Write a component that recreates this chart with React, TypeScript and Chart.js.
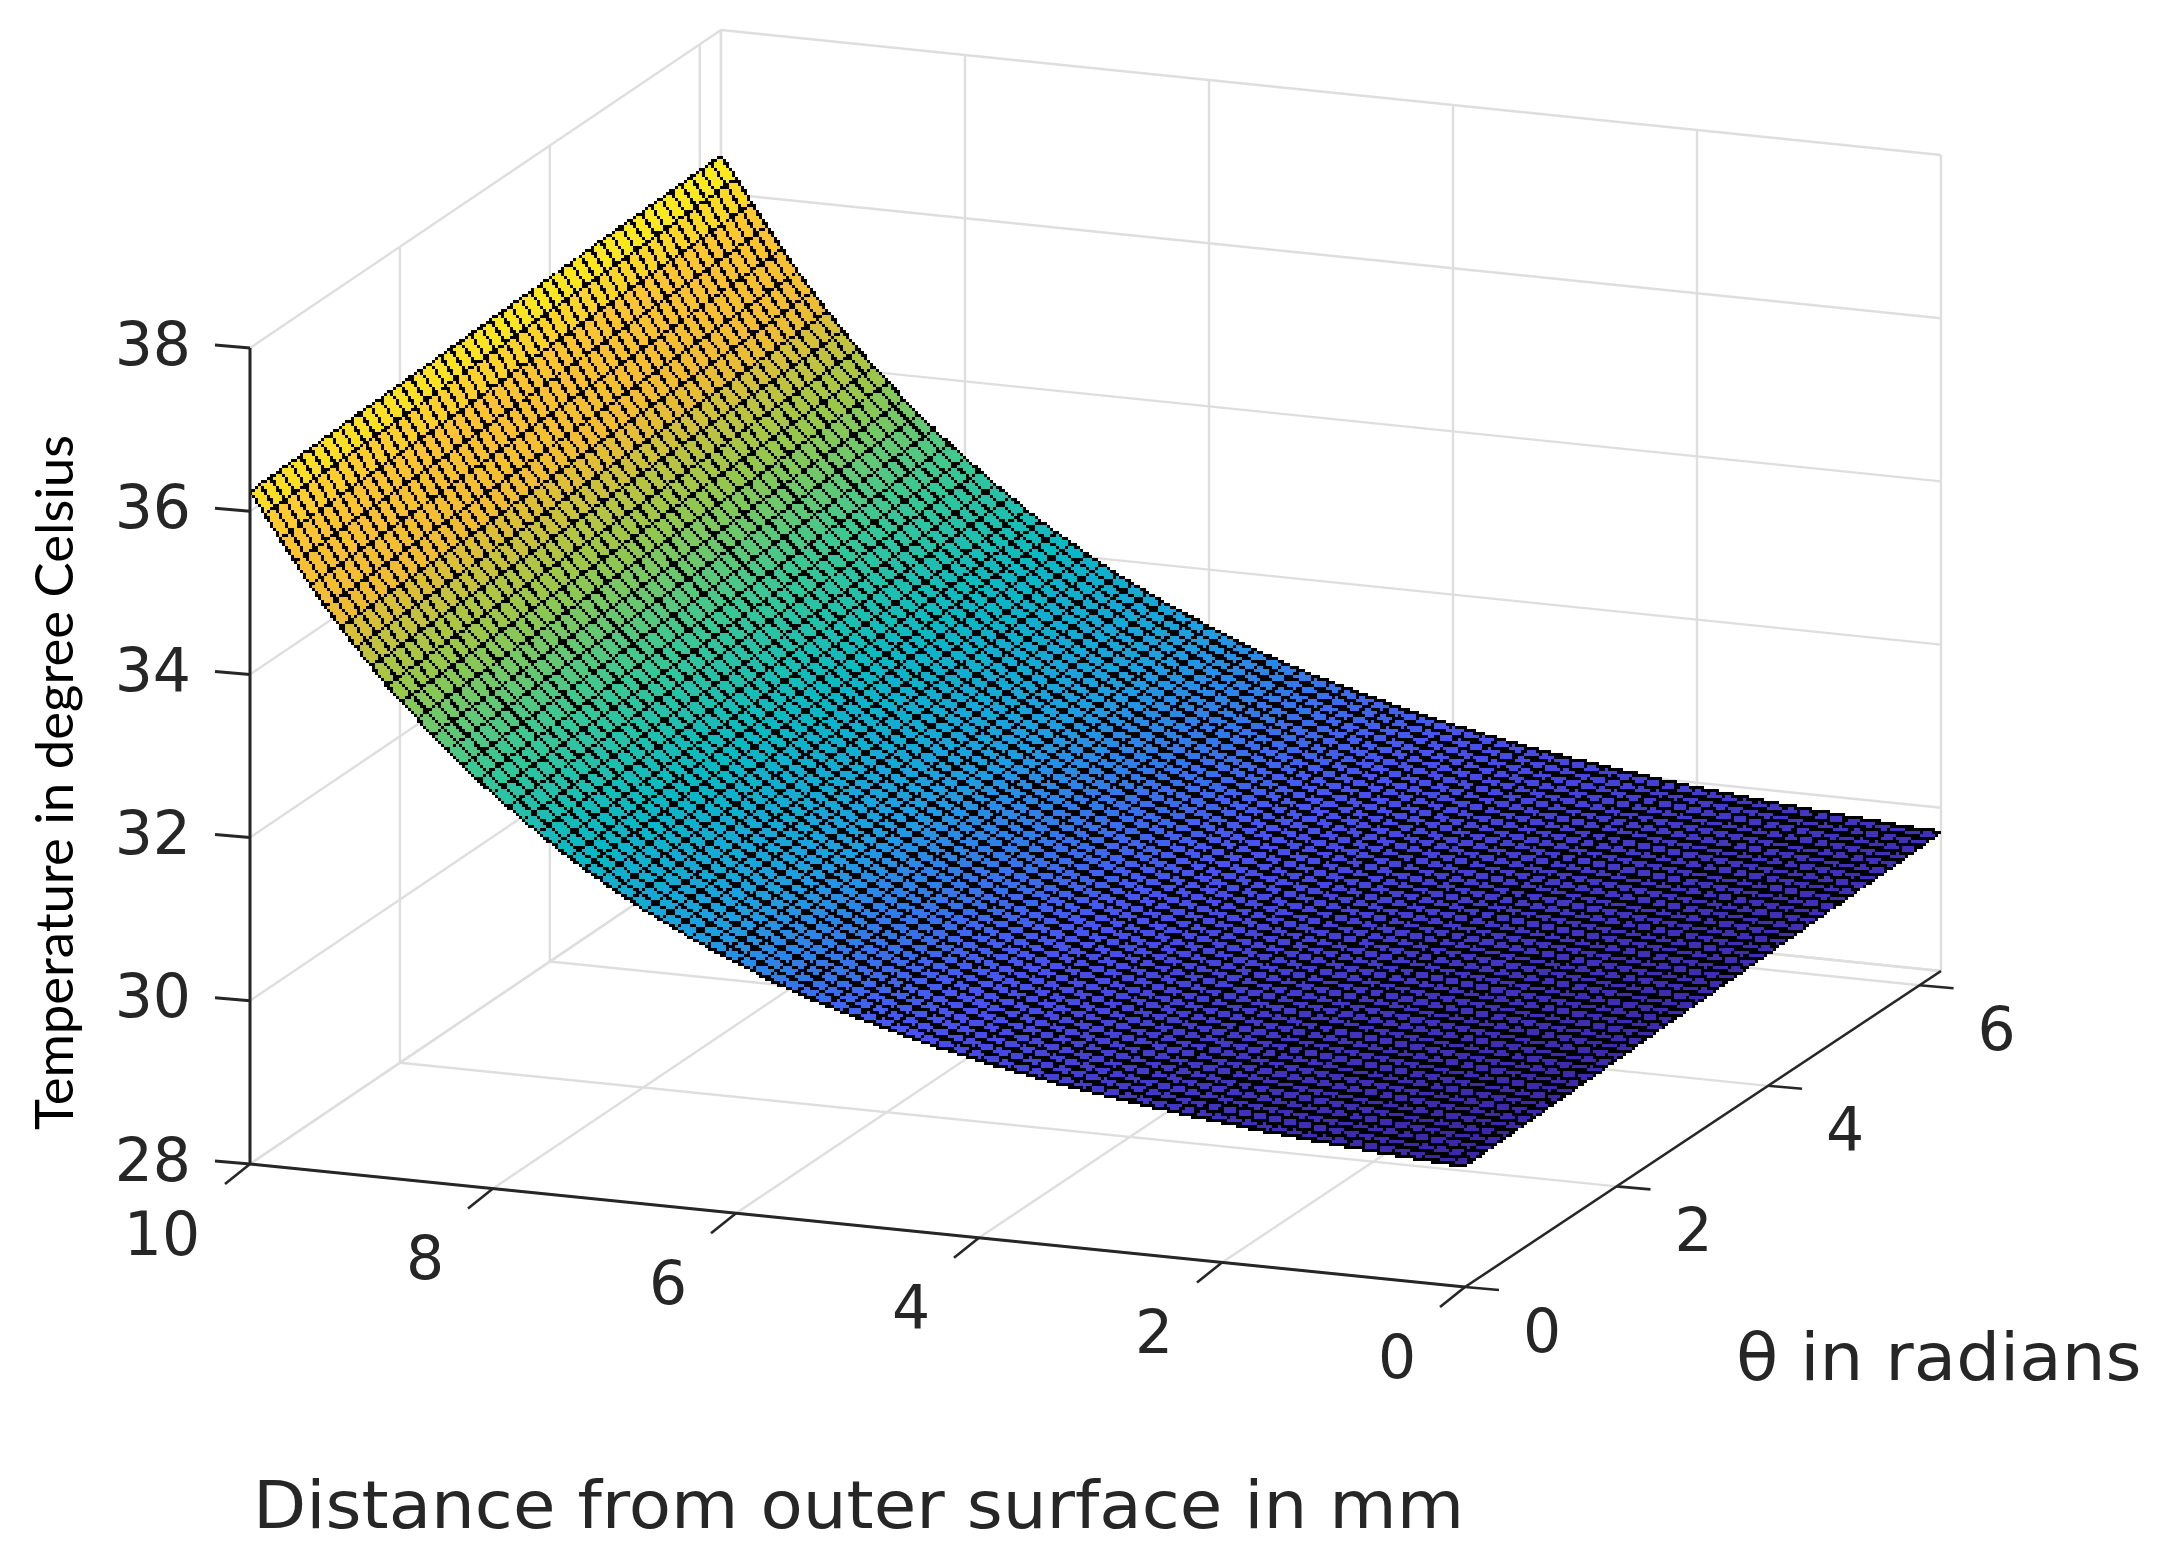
import React, { useEffect, useRef } from "react";
import { Chart, registerables } from "chart.js";

Chart.register(...registerables);

const distanceTicks = [0, 2, 4, 6, 8, 10];
const thetaTicks = [0, 2, 4, 6];
const tempTicks = [28, 30, 32, 34, 36, 38];
const THETA_MAX = 6.2832;
const xTitle = "Distance from outer surface in mm";
const thetaTitle = "θ in radians";
const zTitle = "Temperature in degree Celsius";

// Temperature (°C) at each mesh node along the distance axis, 0 to 10 mm every 0.125 mm
const tempByDistance = [
  29.48, 29.49, 29.5, 29.51, 29.53, 29.54, 29.55, 29.57, 29.58, 29.6, 29.61, 29.63, 29.645, 29.66, 29.68, 29.7,
  29.72, 29.74, 29.76, 29.785, 29.81, 29.83, 29.86, 29.885, 29.91, 29.94, 29.97, 30.0, 30.035, 30.07, 30.105, 30.14,
  30.18, 30.22, 30.26, 30.3, 30.35, 30.4, 30.445, 30.5, 30.55, 30.6, 30.66, 30.72, 30.79, 30.85, 30.92, 31.0,
  31.08, 31.16, 31.24, 31.32, 31.42, 31.51, 31.6, 31.71, 31.81, 31.93, 32.04, 32.16, 32.28, 32.42, 32.55, 32.7,
  32.84, 32.99, 33.15, 33.32, 33.48, 33.67, 33.85, 34.04, 34.25, 34.46, 34.69, 34.92, 35.17, 35.43, 35.7, 35.98,
  36.24,
];

// Small rise of the surface (°C) at each mesh node along the theta axis
const riseByTheta = [
  0, 0.005, 0.009, 0.014, 0.019, 0.023, 0.028, 0.033, 0.037, 0.042, 0.047, 0.051, 0.056, 0.061, 0.066, 0.07,
  0.075, 0.08, 0.084, 0.089, 0.094, 0.098, 0.103, 0.108, 0.112, 0.117, 0.122, 0.126, 0.131, 0.136, 0.14, 0.145,
  0.15, 0.154, 0.159, 0.164, 0.169, 0.173, 0.178, 0.183, 0.187, 0.192, 0.197, 0.201, 0.206, 0.211, 0.215, 0.22,
];

// parula-like colour stops read from the surface
const parula: number[][] = [
  [62, 38, 168],
  [72, 82, 244],
  [30, 158, 226],
  [8, 185, 196],
  [58, 200, 148],
  [150, 200, 75],
  [240, 188, 50],
  [254, 196, 50],
  [249, 251, 21],
];

const CW = 2157;
const CH = 1561;
const PIX = 3;

function parulaColor(t: number): number[] {
  const c = Math.max(0, Math.min(0.99999, t)) * (parula.length - 1);
  const i = Math.floor(c);
  const f = c - i;
  return parula[i].map((v, k) => Math.round(v + (parula[i + 1][k] - v) * f));
}

// Orthographic-like view of the plot box onto view coordinates
function project(dist: number, theta: number, temp: number) {
  const u = dist / 10;
  const v = theta / THETA_MAX;
  const fx = 1465 * (1 - u) * (1 - v) + 250 * u * (1 - v) + 1941 * (1 - u) * v + 721 * u * v;
  const fy = 1287 * (1 - u) * (1 - v) + 1164 * u * (1 - v) + 971 * (1 - u) * v + 846 * u * v;
  return { x: fx, y: fy - (temp - 28) * 81.6 };
}

function seg(a: { x: number; y: number }, b: { x: number; y: number }, color: string, width: number, order: number) {
  return {
    type: "scatter" as const,
    data: [a, b],
    showLine: true,
    pointRadius: 0,
    borderColor: color,
    borderWidth: width,
    tension: 0,
    order,
  };
}

function buildDatasets() {
  const GRID = "#dedede";
  const GW = 2.4;
  const AX = "#262626";
  const out: any[] = [];
  const thetaLines = [...thetaTicks, THETA_MAX];
  for (const z of tempTicks) {
    out.push(seg(project(10, 0, z), project(10, THETA_MAX, z), GRID, GW, 3));
    out.push(seg(project(10, THETA_MAX, z), project(0, THETA_MAX, z), GRID, GW, 3));
  }
  for (const t of thetaLines) {
    out.push(seg(project(10, t, 28), project(10, t, 38), GRID, GW, 3));
    out.push(seg(project(10, t, 28), project(0, t, 28), GRID, GW, 3));
  }
  for (const d of distanceTicks) {
    out.push(seg(project(d, 0, 28), project(d, THETA_MAX, 28), GRID, GW, 3));
    out.push(seg(project(d, THETA_MAX, 28), project(d, THETA_MAX, 38), GRID, GW, 3));
  }
  out.push({ type: "scatter", label: "surface", data: [], pointRadius: 0, order: 2 });
  // axes
  out.push(seg(project(10, 0, 28), project(10, 0, 38), AX, 3, 1));
  out.push(seg(project(10, 0, 28), project(0, 0, 28), AX, 3, 1));
  out.push(seg(project(0, 0, 28), project(0, THETA_MAX, 28), AX, 2.6, 1));
  // ticks
  for (const z of tempTicks) {
    const p = project(10, 0, z);
    out.push(seg(p, { x: p.x - 35, y: p.y - 3 }, AX, 3, 1));
  }
  for (const d of distanceTicks) {
    const p = project(d, 0, 28);
    out.push(seg(p, { x: p.x - 25, y: p.y + 20 }, AX, 2.6, 1));
  }
  for (const t of thetaTicks) {
    const p = project(0, t, 28);
    out.push(seg(p, { x: p.x + 34, y: p.y + 3 }, AX, 2.6, 1));
  }
  return out;
}

const surfacePlugin = {
  id: "surface",
  afterDatasetDraw(chart: any, args: any) {
    if (chart.data.datasets[args.index].label !== "surface") return;
    const xs = chart.scales.x;
    const ys = chart.scales.y;
    const w = Math.ceil(CW / PIX);
    const h = Math.ceil(CH / PIX);
    const nx = tempByDistance.length;
    const nt = riseByTheta.length;
    const pt = (i: number, j: number) => {
      const p = project(i * 0.125, (j / (nt - 1)) * THETA_MAX, tempByDistance[i] + riseByTheta[j]);
      return [xs.getPixelForValue(p.x) / PIX, ys.getPixelForValue(p.y) / PIX];
    };
    const all = tempByDistance[nx - 1] + riseByTheta[nt - 1];
    const lo = tempByDistance[0];

    const fillC = document.createElement("canvas");
    fillC.width = w;
    fillC.height = h;
    const fc = fillC.getContext("2d", { willReadFrequently: true })!;
    const lineC = document.createElement("canvas");
    lineC.width = w;
    lineC.height = h;
    const lc = lineC.getContext("2d", { willReadFrequently: true })!;

    for (let i = 0; i < nx - 1; i++) {
      for (let j = 0; j < nt - 1; j++) {
        const t = (tempByDistance[i] + riseByTheta[j] - lo) / (all - lo);
        const col = `rgb(${parulaColor(t).join(",")})`;
        const a = pt(i, j);
        const b = pt(i + 1, j);
        const c = pt(i + 1, j + 1);
        const d = pt(i, j + 1);
        fc.beginPath();
        fc.moveTo(a[0], a[1]);
        fc.lineTo(b[0], b[1]);
        fc.lineTo(c[0], c[1]);
        fc.lineTo(d[0], d[1]);
        fc.closePath();
        fc.fillStyle = col;
        fc.strokeStyle = col;
        fc.lineWidth = 0.6;
        fc.fill();
        fc.stroke();
      }
    }
    lc.strokeStyle = "#000";
    lc.lineWidth = 0.8;
    for (let i = 0; i < nx; i++) {
      lc.beginPath();
      for (let j = 0; j < nt; j++) {
        const p = pt(i, j);
        if (j === 0) lc.moveTo(p[0], p[1]);
        else lc.lineTo(p[0], p[1]);
      }
      lc.stroke();
    }
    lc.lineWidth = 1;
    for (let j = 0; j < nt; j++) {
      lc.beginPath();
      for (let i = 0; i < nx; i++) {
        const p = pt(i, j);
        if (i === 0) lc.moveTo(p[0], p[1]);
        else lc.lineTo(p[0], p[1]);
      }
      lc.stroke();
    }
    const fd = fc.getImageData(0, 0, w, h);
    const ld = lc.getImageData(0, 0, w, h);
    for (let k = 0; k < fd.data.length; k += 4) {
      if (ld.data[k + 3] > 105) {
        fd.data[k] = fd.data[k + 1] = fd.data[k + 2] = 0;
        fd.data[k + 3] = 255;
      } else if (fd.data[k + 3] > 127) {
        fd.data[k + 3] = 255;
      } else {
        fd.data[k + 3] = 0;
      }
    }
    fc.putImageData(fd, 0, 0);
    const ctx = chart.ctx;
    ctx.save();
    ctx.imageSmoothingEnabled = false;
    ctx.drawImage(fillC, 0, 0, w * PIX, h * PIX);
    ctx.restore();
  },
  afterDraw(chart: any) {
    const ctx = chart.ctx;
    const xs = chart.scales.x;
    const ys = chart.scales.y;
    const at = (p: { x: number; y: number }) => [xs.getPixelForValue(p.x), ys.getPixelForValue(p.y)];
    ctx.save();
    ctx.fillStyle = "#262626";
    ctx.font = '60px "DejaVu Sans"';
    ctx.textBaseline = "middle";
    ctx.textAlign = "right";
    for (const z of tempTicks) {
      const [x, y] = at(project(10, 0, z));
      ctx.fillText(String(z), x - 59, y + 1);
    }
    ctx.textAlign = "center";
    for (const d of distanceTicks) {
      const [x, y] = at(project(d, 0, 28));
      ctx.fillText(String(d), x - (d === 10 ? 88 : 68), y + 75);
    }
    for (const t of thetaTicks) {
      const [x, y] = at(project(0, t, 28));
      ctx.fillText(String(t), x + 77, y + 49);
    }
    ctx.font = '66px "DejaVu Sans"';
    ctx.textAlign = "left";
    for (const [label, px, py] of [
      [xTitle, 253, 1511],
      [thetaTitle, 1736, 1363],
    ] as [string, number, number][]) {
      ctx.save();
      ctx.translate(px, py);
      ctx.scale(1.048, 1);
      ctx.fillText(label, 0, 0);
      ctx.restore();
    }

    ctx.fillStyle = "#000";
    ctx.font = '52px "Lato"';
    ctx.textBaseline = "alphabetic";
    const m = ctx.measureText(zTitle).width;
    ctx.translate(73, 1130);
    ctx.rotate(-Math.PI / 2);
    ctx.scale(695 / m, 1);
    ctx.fillText(zTitle, 0, 0);
    ctx.restore();
  },
};

export default function App() {
  const ref = useRef<HTMLCanvasElement>(null);
  useEffect(() => {
    const chart = new Chart(ref.current!, {
      type: "scatter",
      data: { datasets: buildDatasets() },
      options: {
        animation: false,
        responsive: false,
        devicePixelRatio: 1,
        layout: { padding: 0 },
        plugins: { legend: { display: false }, tooltip: { enabled: false } },
        scales: {
          x: { type: "linear", min: 0, max: CW, display: false },
          y: { type: "linear", min: 0, max: CH, reverse: true, display: false },
        },
      },
      plugins: [surfacePlugin],
    } as any);
    return () => chart.destroy();
  }, []);
  return (
    <canvas
      ref={ref}
      width={CW}
      height={CH}
      style={{ position: "fixed", left: 0, top: 0, width: CW, height: CH, background: "#fff" }}
    />
  );
}
